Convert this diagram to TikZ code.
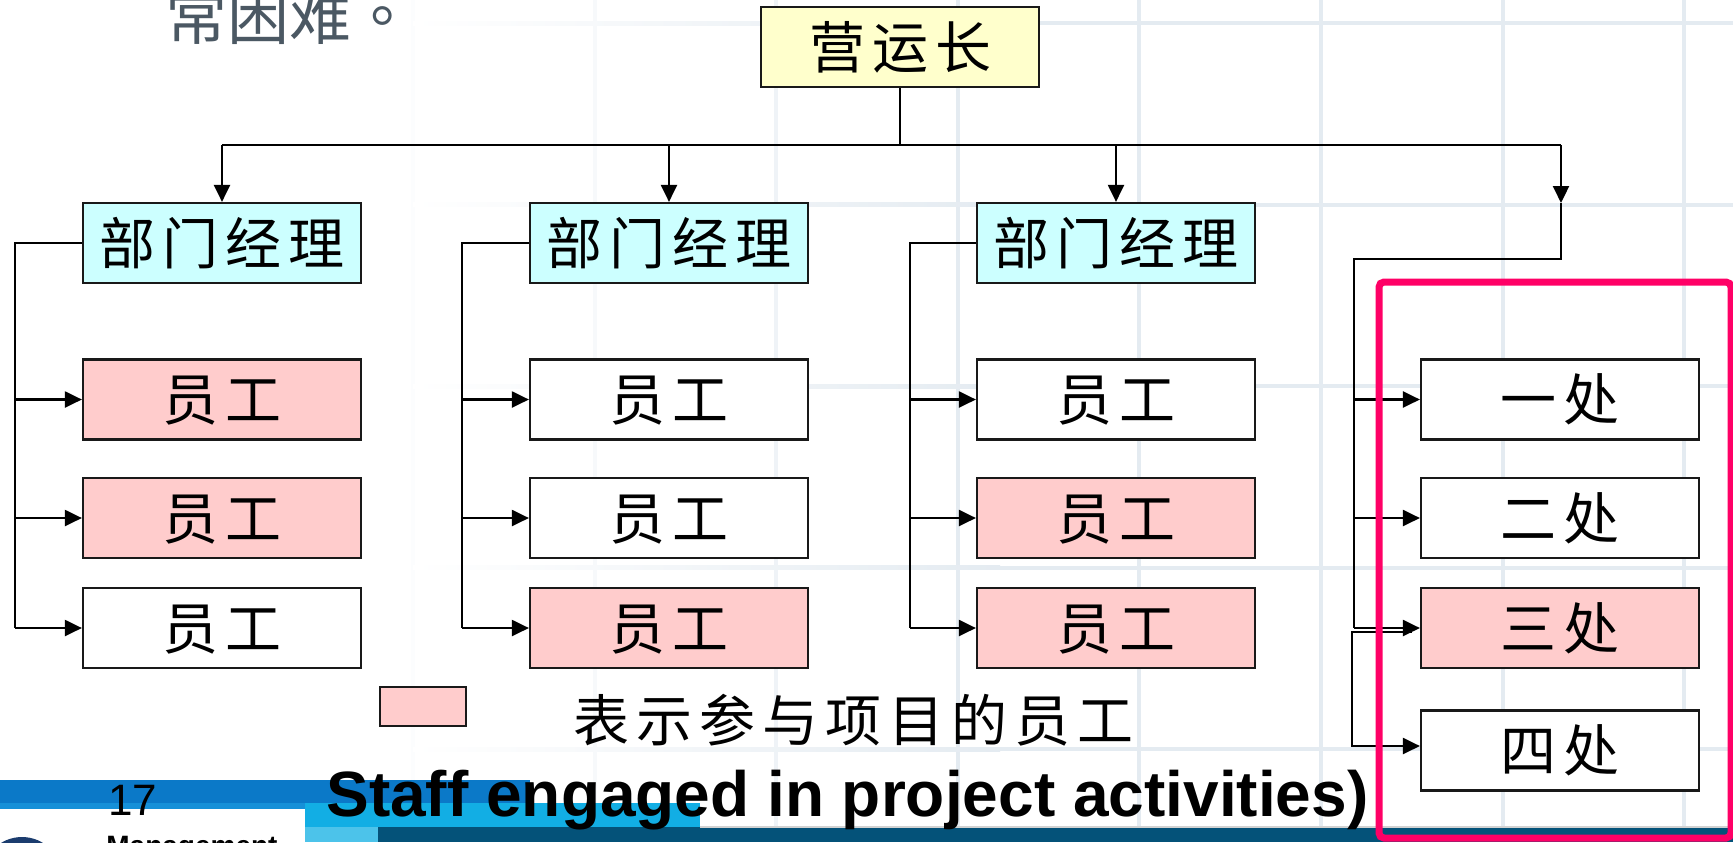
\documentclass[tikz,border=0pt]{standalone}
\usepackage{fontspec}
\setmainfont{Liberation Sans}
\newfontfamily\cjk{Noto Sans CJK SC}
\newfontfamily\cjktc{Noto Sans CJK TC}
\usetikzlibrary{arrows.meta}
\definecolor{pinkf}{HTML}{FFCCCC}
\definecolor{cyanf}{HTML}{CCFFFF}
\definecolor{yelf}{HTML}{FFFFCC}
\definecolor{magl}{HTML}{FF0066}
\definecolor{gridc}{HTML}{E4EBF1}
\definecolor{bandblue}{HTML}{0B79C8}
\definecolor{bandmid}{HTML}{1690D8}
\definecolor{bandcyan}{HTML}{12AEE4}
\definecolor{bandlc}{HTML}{4CC3EA}
\definecolor{bandnavy}{HTML}{045279}
\definecolor{logonavy}{HTML}{1B3C6E}
\definecolor{toptext}{HTML}{4B5863}
\newcommand\ks{\kern3.5pt}
\tikzset{
  box/.style={draw=black!90,line width=1.1pt,minimum width=139pt,minimum height=40pt,
    inner sep=0pt,font=\cjk\fontsize{28pt}{30pt}\selectfont,text height=23.2pt,text depth=2pt},
  conn/.style={draw=black,line width=1.1pt},
  arr/.style={conn,-{Triangle[length=8.5pt,width=8pt]}},
}
\begin{document}
\begin{tikzpicture}[x=0.5pt,y=-0.5pt]
\useasboundingbox (0,0) rectangle (1733,842);
\clip (0,0) rectangle (1733,842);
\fill[white] (0,0) rectangle (1733,842);
% background grid, fading to the left
\foreach \k/\p in {0/10,1/30,2/60,3/100,4/100,5/100,6/100,7/100}
  \draw[color=gridc!\p,line width=2pt] ({413+181.6*\k},0) -- ({413+181.6*\k},842);
\foreach \yy in {23,204.6,386.2,567.8,749.4}{
  \shade[left color=white,right color=gridc] (413,\yy-2) rectangle (1000,\yy+2);
  \fill[gridc] (1000,\yy-2) rectangle (1733,\yy+2);
}
% bottom slide bands
\fill[bandblue] (0,780) rectangle (530,803);
\fill[bandmid] (0,803) rectangle (305,809);
\fill[white] (0,809) rectangle (305,842);
\fill[bandcyan] (305,803) rectangle (700,827);
\fill[bandlc] (305,827) rectangle (378,842);
\fill[bandnavy] (378,827) rectangle (1733,842);
\draw[gray!35,line width=1pt] (700,826.5) -- (1733,826.5);
\fill[logonavy] (22,877) circle (40);
% top text
\node[anchor=base west,inner sep=0pt,text=toptext,font=\cjktc\fontsize{31pt}{33pt}\selectfont] (prev) at (165,39) {常困难。};
% nodes
\node[box,fill=yelf] (top) at (900,47) {营\ks 运\ks 长};
\node[box,fill=cyanf] (d1) at (222,243) {部\ks 门\ks 经\ks 理};
\node[box,fill=cyanf] (d2) at (669,243) {部\ks 门\ks 经\ks 理};
\node[box,fill=cyanf] (d3) at (1116,243) {部\ks 门\ks 经\ks 理};
\node[box,fill=pinkf] (e11) at (222,399.5) {员\ks 工};
\node[box,fill=pinkf] (e12) at (222,518) {员\ks 工};
\node[box,fill=white] (e13) at (222,628) {员\ks 工};
\node[box,fill=white] (e21) at (669,399.5) {员\ks 工};
\node[box,fill=white] (e22) at (669,518) {员\ks 工};
\node[box,fill=pinkf] (e23) at (669,628) {员\ks 工};
\node[box,fill=white] (e31) at (1116,399.5) {员\ks 工};
\node[box,fill=pinkf] (e32) at (1116,518) {员\ks 工};
\node[box,fill=pinkf] (e33) at (1116,628) {员\ks 工};
\node[box,fill=white] (c1) at (1560,399.5) {一\ks 处};
\node[box,fill=white] (c2) at (1560,518) {二\ks 处};
\node[box,fill=pinkf] (c3) at (1560,628) {三\ks 处};
\node[box,fill=white] (c4) at (1560,750.5) {四\ks 处};
% legend
\node[draw=black!90,line width=1.1pt,fill=pinkf,minimum width=43pt,minimum height=19.5pt,inner sep=0pt] (leg) at (423,706.5) {};
\node[inner sep=0pt,font=\cjk\fontsize{28pt}{30pt}\selectfont,text height=23.2pt,text depth=2pt] (legt) at (853,720) {表\ks 示\ks 参\ks 与\ks 项\ks 目\ks 的\ks 员\ks 工};
% connectors
\coordinate (bus) at (900,145);
\coordinate (bL) at (222,145);
\coordinate (bR) at (1561,145);
\draw[conn] (top.south) -- (bus);
\draw[conn] (bL) -- (bR);
\draw[arr] (bL) -- (d1.north);
\draw[arr] (d2.north |- bus) -- (d2.north);
\draw[arr] (d3.north |- bus) -- (d3.north);
\coordinate (rA) at (1561,203);
\coordinate (rB) at (1561,259);
\coordinate (rC) at (1354,259);
\draw[arr] (bR) -- (rA);
\draw[conn] (rA) -- (rB) -- (rC) -- (rC |- c3.west);
\draw[arr] (rC |- c1.west) -- (c1.west);
\draw[arr] (rC |- c2.west) -- (c2.west);
\draw[arr] (rC |- c3.west) -- (c3.west);
\coordinate (s1) at (1412,632);
\coordinate (s2) at (1352,632);
\coordinate (s3) at (1352,746);
\draw[arr] (s1) -- (s2) -- (s3) -- (c4.west |- s3);
% department brackets
\foreach \c/\kx in {1/15,2/462,3/910}{
  \coordinate (k\c) at (\kx,243);
  \draw[conn] (d\c.west) -- (k\c) -- (k\c |- e\c3.west);
  \draw[arr] (k\c |- e\c1.west) -- (e\c1.west);
  \draw[arr] (k\c |- e\c2.west) -- (e\c2.west);
  \draw[arr] (k\c |- e\c3.west) -- (e\c3.west);
}
% highlight frame
\draw[magl,line width=3.5pt,rounded corners=2.5pt] (1379,282) rectangle (1731,838);
% footer texts
\node[anchor=base west,inner sep=0pt,font=\bfseries\fontsize{32pt}{34pt}\selectfont] (staff) at (326,816) {Staff engaged in project activities)};
\node[anchor=base west,inner sep=0pt,font=\fontsize{22pt}{24pt}\selectfont] (num) at (108,815) {17};
\node[anchor=base west,inner sep=0pt,font=\bfseries\fontsize{14pt}{16pt}\selectfont] (mgmt) at (106,855) {Management};
\end{tikzpicture}
\end{document}
